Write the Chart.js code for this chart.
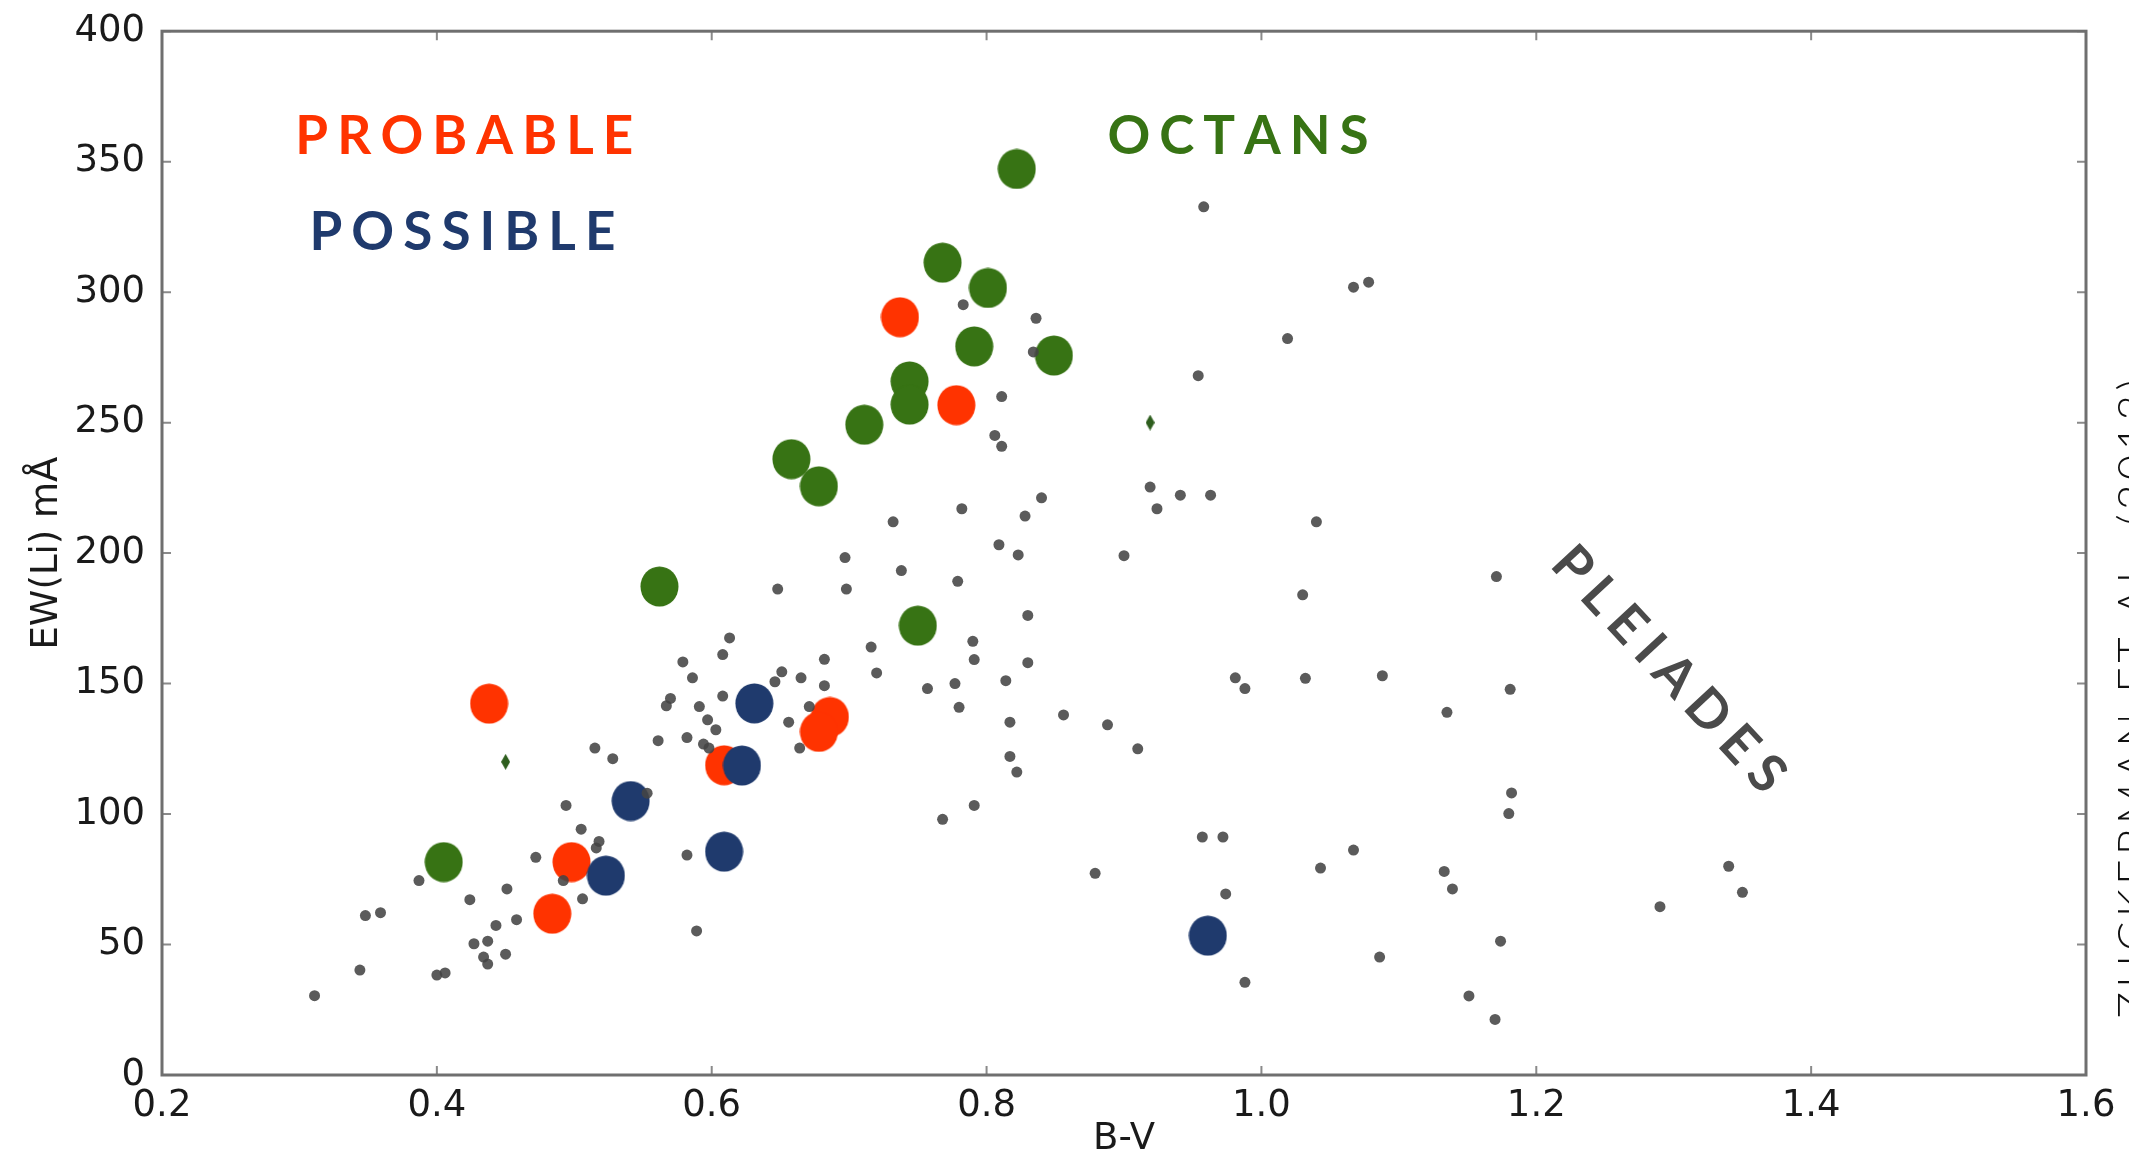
<!DOCTYPE html>
<html><head><meta charset="utf-8">
<script src="https://cdn.jsdelivr.net/npm/chart.js@4.4.0/dist/chart.umd.min.js"></script>
<style>html,body{margin:0;padding:0;background:#fff;overflow:hidden;}#wrap{width:2129px;height:1170px;}</style>
</head><body><div id="wrap"><canvas id="c" width="2129" height="1170"></canvas></div>
<script>
// ---------- DATA ----------
const xTicks = [0.2, 0.4, 0.6, 0.8, 1.0, 1.2, 1.4, 1.6];
const xTickLabels = ['0.2', '0.4', '0.6', '0.8', '1.0', '1.2', '1.4', '1.6'];
const yTicks = [0, 50, 100, 150, 200, 250, 300, 350, 400];
const yTickLabels = ['0', '50', '100', '150', '200', '250', '300', '350', '400'];

// Pleiades (small grey points)
const pleiadesBV = [0.311,0.344,0.348,0.359,0.387,0.400,0.406,0.424,0.427,0.437,0.434,0.437,0.443,0.450,0.451,0.458,0.472,0.492,0.494,0.505,0.506,0.515,0.516,0.518,0.528,0.553,0.561,0.567,0.570,0.579,0.582,0.582,0.586,0.589,0.591,0.594,0.598,0.597,0.603,0.608,0.608,0.613,0.646,0.651,0.648,0.656,0.664,0.665,0.671,0.682,0.682,0.697,0.698,0.716,0.720,0.732,0.738,0.757,0.768,0.777,0.779,0.780,0.782,0.783,0.790,0.791,0.791,0.806,0.811,0.809,0.811,0.814,0.817,0.817,0.822,0.823,0.828,0.830,0.830,0.834,0.836,0.840,0.856,0.879,0.888,0.900,0.910,0.919,0.924,0.941,0.954,0.957,0.958,0.963,0.972,0.974,0.981,0.988,0.988,1.019,1.030,1.032,1.040,1.043,1.067,1.067,1.078,1.086,1.088,1.133,1.135,1.139,1.151,1.170,1.171,1.174,1.181,1.182,1.180,1.290,1.340,1.350];
const pleiadesEW = [30.4,40.2,61.1,62.2,74.5,38.3,39.1,67.2,50.3,51.3,45.2,42.5,57.3,46.3,71.3,59.5,83.4,74.5,103.3,94.2,67.5,125.3,87.0,89.5,121.2,108.0,128.1,141.5,144.3,158.3,129.3,84.3,152.2,55.2,141.2,126.8,125.3,136.1,132.3,145.2,161.1,167.5,150.7,154.5,186.2,135.2,125.3,152.2,141.2,159.3,149.2,198.3,186.2,164.0,154.1,212.0,193.3,148.1,98.0,150.0,189.2,140.9,217.0,295.2,166.2,159.2,103.3,245.1,240.9,203.2,260.0,151.1,135.2,122.1,116.1,199.3,214.2,176.1,158.0,277.1,290.0,221.2,138.0,77.3,134.2,199.0,125.0,225.3,217.0,222.2,268.0,91.2,332.7,222.2,91.2,69.4,152.2,148.1,35.5,282.2,184.0,152.0,212.0,79.3,86.2,301.9,303.8,45.2,153.0,78.0,139.0,71.3,30.3,21.3,191.0,51.3,147.8,108.1,100.2,64.5,80.0,70.0];

// small green diamonds
const diamondBV = [0.450, 0.919];
const diamondEW = [120.0, 250.0];

// Octans (large green)
const octansBV = [0.822, 0.768, 0.801, 0.791, 0.849, 0.744, 0.744, 0.711, 0.658, 0.678, 0.562, 0.750, 0.405];
const octansEW = [347.2, 311.3, 301.6, 279.2, 275.7, 265.8, 256.9, 249.2, 236.0, 225.6, 187.2, 172.2, 81.6];

// Possible (large navy)
const possibleBV = [0.631, 0.622, 0.541, 0.523, 0.609, 0.961];
const possibleEW = [142.4, 118.6, 105.0, 76.4, 85.6, 53.4];

// Probable (large red)
const probableBV = [0.737, 0.778, 0.438, 0.686, 0.678, 0.609, 0.498, 0.484];
const probableEW = [290.4, 256.7, 142.3, 137.2, 131.5, 118.7, 81.6, 61.8];

const xTitle = 'B-V';
const yTitle = 'EW(Li) mÅ';

// ---------- helpers ----------
const pts = (xs, ys) => xs.map((x, i) => ({x: x, y: ys[i]}));
function ellipseImg(color, w, h) {
  const c = document.createElement('canvas'); c.width = w; c.height = h;
  const g = c.getContext('2d'); g.fillStyle = color;
  g.beginPath(); g.ellipse(w/2, h/2, w/2 - 0.5, h/2 - 0.5, 0, 0, Math.PI*2); g.fill();
  return c;
}
function diamondImg(color, w, h) {
  const c = document.createElement('canvas'); c.width = w; c.height = h;
  const g = c.getContext('2d'); g.fillStyle = color;
  g.beginPath(); g.moveTo(w/2, 0); g.lineTo(w, h/2); g.lineTo(w/2, h); g.lineTo(0, h/2); g.closePath(); g.fill();
  return c;
}
const RED = '#FF3300', NAVY = '#1F3A6D', GREEN = '#377314';

function spaced(ctx, text, cx, cy, width, font, color, angle) {
  ctx.save();
  ctx.font = font; ctx.fillStyle = color; ctx.textBaseline = 'alphabetic'; ctx.textAlign = 'left';
  const chars = Array.from(text);
  const ws = chars.map(ch => ctx.measureText(ch).width);
  const nat = ws.reduce((a, b) => a + b, 0);
  const sp = (width - nat) / (chars.length - 1);
  const cap = ctx.measureText('H').actualBoundingBoxAscent;
  ctx.translate(cx, cy); ctx.rotate(angle || 0);
  let x = -width / 2;
  chars.forEach((ch, i) => { ctx.fillText(ch, x, cap / 2); x += ws[i] + sp; });
  ctx.restore();
}

const framePlugin = {
  id: 'frame',
  beforeDatasetsDraw(chart) {
    const {ctx, chartArea: a, scales} = chart;
    ctx.save();
    ctx.strokeStyle = '#8a8a8a'; ctx.lineWidth = 2;
    const tl = 9;
    ctx.beginPath();
    xTicks.forEach(v => {
      const px = scales.x.getPixelForValue(v);
      ctx.moveTo(px, a.bottom); ctx.lineTo(px, a.bottom - tl);
      ctx.moveTo(px, a.top); ctx.lineTo(px, a.top + tl);
    });
    yTicks.forEach(v => {
      const py = scales.y.getPixelForValue(v);
      ctx.moveTo(a.left, py); ctx.lineTo(a.left + tl, py);
      ctx.moveTo(a.right, py); ctx.lineTo(a.right - tl, py);
    });
    ctx.stroke();
    ctx.strokeStyle = '#6f6f6f'; ctx.lineWidth = 3;
    ctx.strokeRect(a.left, a.top, a.right - a.left, a.bottom - a.top);
    ctx.restore();
  },
  afterDatasetsDraw(chart) {
    const {ctx, chartArea: a, scales} = chart;
    const X = v => scales.x.getPixelForValue(v), Y = v => scales.y.getPixelForValue(v);
    const bold = '700 53px Lato, "Open Sans", sans-serif';
    spaced(ctx, 'PROBABLE', X(0.420), Y(360.3), 338, bold, RED, 0);
    spaced(ctx, 'POSSIBLE', X(0.4186), Y(323.5), 306, bold, NAVY, 0);
    spaced(ctx, 'OCTANS', X(0.983), Y(360.3), 261, bold, GREEN, 0);
    spaced(ctx, 'PLEIADES', X(1.2976), Y(156.0), 315, bold, '#4a4a4a', 47 * Math.PI / 180);
    spaced(ctx, 'ZUCKERMAN ET AL. (2013)', a.right + 47, Y(144.2), 639, '300 44px Lato, "Open Sans", sans-serif', '#111', -Math.PI / 2);
  }
};

const tickFont = {family: '"DejaVu Sans", sans-serif', size: 37};

new Chart(document.getElementById('c'), {
  type: 'scatter',
  data: {
    datasets: [
      {label: 'Pleiades', data: pts(pleiadesBV, pleiadesEW), pointRadius: 5.5, pointHoverRadius: 5.5,
       backgroundColor: 'rgba(68,68,68,0.88)', borderWidth: 0},
      {label: 'diamonds', data: pts(diamondBV, diamondEW), pointStyle: diamondImg('#2e5e1e', 9, 16)},
      {label: 'Octans', data: pts(octansBV, octansEW), pointStyle: ellipseImg(GREEN, 39, 41)},
      {label: 'Possible', data: pts(possibleBV, possibleEW), pointStyle: ellipseImg(NAVY, 39, 41)},
      {label: 'Probable', data: pts(probableBV, probableEW), pointStyle: ellipseImg(RED, 39, 41)}
    ]
  },
  options: {
    responsive: false, animation: false, devicePixelRatio: 1,
    layout: {padding: {top: 26, right: 43, left: 0, bottom: 0}},
    plugins: {legend: {display: false}, tooltip: {enabled: false}},
    scales: {
      x: {
        type: 'linear', min: 0.2, max: 1.6,
        afterBuildTicks: s => { s.ticks = xTicks.map(v => ({value: v})); },
        afterFit: s => { s.height = 95; },
        grid: {display: false}, border: {display: false},
        ticks: {font: tickFont, color: '#1a1a1a', padding: 1, maxRotation: 0, autoSkip: false,
                callback: (v, i) => xTickLabels[i]},
        title: {display: true, text: xTitle, font: tickFont, color: '#1a1a1a', padding: {top: 0, bottom: 8}}
      },
      y: {
        type: 'linear', min: 0, max: 400,
        afterBuildTicks: s => { s.ticks = yTicks.map(v => ({value: v})); },
        afterFit: s => { s.width = 162; },
        grid: {display: false}, border: {display: false},
        ticks: {font: tickFont, color: '#1a1a1a', padding: 9, autoSkip: false,
                callback: (v, i) => yTickLabels[i]},
        title: {display: true, text: yTitle, font: tickFont, color: '#1a1a1a', padding: {top: 25, bottom: 0}}
      }
    }
  },
  plugins: [framePlugin]
});
</script>
</body></html>
